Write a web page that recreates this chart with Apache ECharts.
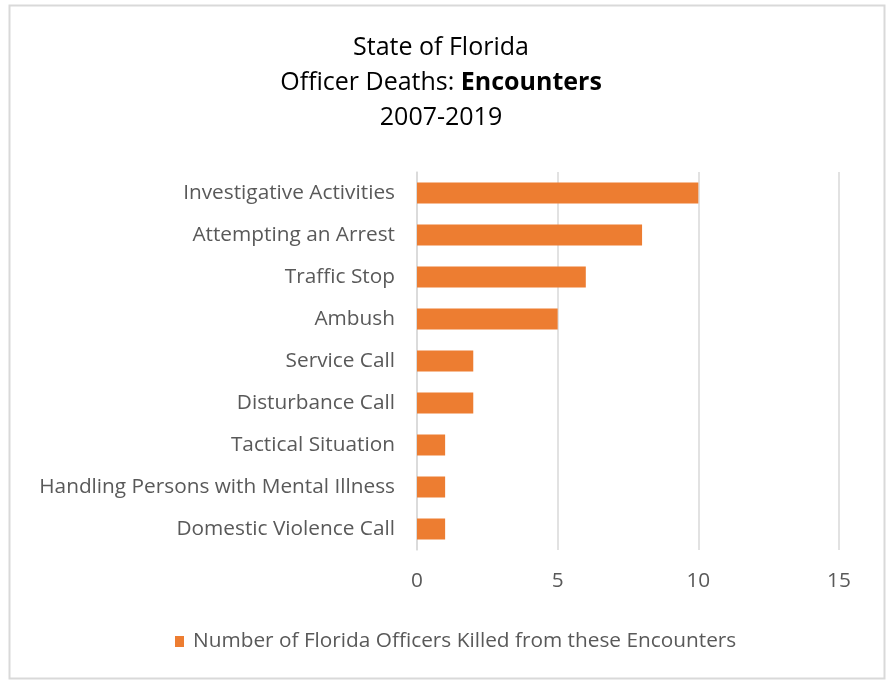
<!DOCTYPE html>
<html><head><meta charset="utf-8">
<script src="https://cdn.jsdelivr.net/npm/echarts@6/dist/echarts.min.js"></script>
<style>html,body{margin:0;padding:0;background:#fff}#c{width:890px;height:680px}</style>
</head><body><div id="c"></div>
<script>
const categories = ["Investigative Activities","Attempting an Arrest","Traffic Stop","Ambush","Service Call","Disturbance Call","Tactical Situation","Handling Persons with Mental Illness","Domestic Violence Call"];
const values = [10,8,6,5,2,2,1,1,1];
const seriesName = "Number of Florida Officers Killed from these Encounters";
const xTicks = [0,5,10,15];
const font = "'Open Sans', 'Noto Sans', sans-serif";
const fs = 20.8;
const chart = echarts.init(document.getElementById('c'));
chart.setOption({
  animation:false,
  graphic:[{type:'rect',shape:{x:9.5,y:5.5,width:875,height:673},style:{fill:'none',stroke:'#d9d9d9',lineWidth:2},silent:true}],
  title:{
    text:'{a|State of Florida}\n{a|Officer Deaths: }{b|Encounters}\n{a|2007-2019}',
    left:436, top:25, textAlign:'center',
    textStyle:{fontWeight:'normal',rich:{
      a:{fontFamily:font,fontSize:25,color:'#000',fontWeight:'normal',lineHeight:35},
      b:{fontFamily:font,fontSize:25,color:'#000',fontWeight:'bold',lineHeight:35}
    }}
  },
  legend:{
    bottom:23, left:170, itemWidth:9, itemHeight:11, icon:'rect', itemGap:8,
    textStyle:{fontFamily:font,fontSize:fs,color:'#595959',padding:[0,0,0,4]},
    data:[seriesName]
  },
  grid:{left:417,right:51,top:172,bottom:130,containLabel:false},
  xAxis:{type:'value',min:0,max:15,interval:5,
    axisLine:{show:false},axisTick:{show:false},
    splitLine:{lineStyle:{color:'#d9d9d9',width:1.5}},
    axisLabel:{fontFamily:font,fontSize:fs,color:'#595959',margin:21,
      formatter:v=>xTicks.includes(v)?String(v):''}
  },
  yAxis:{type:'category',inverse:true,data:categories,
    axisLine:{show:true,lineStyle:{color:'#d9d9d9',width:1.5}},axisTick:{show:false},
    axisLabel:{fontFamily:font,fontSize:fs,color:'#595959',margin:22}
  },
  series:[{name:seriesName,type:'bar',data:values,barWidth:21,
    itemStyle:{color:'#ED7D31'}}]
});
</script></body></html>
